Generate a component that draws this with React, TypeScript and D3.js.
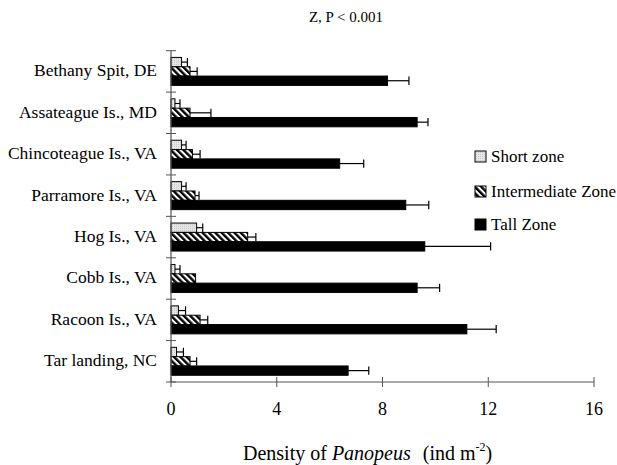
import React from "react";
import * as d3 from "d3";

const categories = [
  "Bethany Spit, DE",
  "Assateague Is., MD",
  "Chincoteague Is., VA",
  "Parramore Is., VA",
  "Hog Is., VA",
  "Cobb Is., VA",
  "Racoon Is., VA",
  "Tar landing, NC",
];
const seriesNames = ["Short zone", "Intermediate Zone", "Tall Zone"];
const shortVals = [0.4, 0.15, 0.4, 0.4, 0.97, 0.15, 0.28, 0.21];
const shortErr = [0.22, 0.19, 0.17, 0.17, 0.23, 0.19, 0.27, 0.26];
const interVals = [0.72, 0.72, 0.81, 0.91, 2.9, 0.93, 1.1, 0.72];
const interErr = [0.27, 0.79, 0.29, 0.15, 0.31, 0, 0.29, 0.25];
const tallVals = [8.19, 9.31, 6.38, 8.88, 9.6, 9.31, 11.19, 6.7];
const tallErr = [0.81, 0.41, 0.91, 0.87, 2.49, 0.85, 1.11, 0.78];
const xTicks = [0, 4, 8, 12, 16];

const W = 617;
const H = 465;
const FONT = "'Liberation Serif', 'Times New Roman', serif";

export default function App() {
  const x = d3.scaleLinear().domain([0, 16]).range([171, 594]);
  const y = d3.scaleBand<string>().domain(categories).range([50.7, 382]).padding(0);
  const inner = d3
    .scaleBand<string>()
    .domain(seriesNames)
    .range([0, y.bandwidth()])
    .paddingInner(0)
    .paddingOuter(0.72);

  const series = [
    { name: seriesNames[0], vals: shortVals, errs: shortErr, fill: "url(#dots)" },
    { name: seriesNames[1], vals: interVals, errs: interErr, fill: "url(#hatch)" },
    { name: seriesNames[2], vals: tallVals, errs: tallErr, fill: "#000" },
  ];

  const bh = inner.bandwidth();
  const boundaries = categories.map((c) => y(c) as number).concat([382]);

  return (
    <svg
      width={W}
      height={H}
      style={{ position: "absolute", left: 0, top: 0, background: "#fff", fontFamily: FONT }}
    >
      <defs>
        <pattern id="hatch" patternUnits="userSpaceOnUse" width="4.5" height="4.5" patternTransform="rotate(-45)">
          <rect width="4.5" height="4.5" fill="#fff" />
          <rect width="2.4" height="4.5" fill="#000" />
        </pattern>
        <pattern id="dots" patternUnits="userSpaceOnUse" width="2" height="2">
          <rect width="2" height="2" fill="#e6e6e6" />
          <rect width="1" height="1" fill="#c8c8c8" />
        </pattern>
      </defs>
      <rect width={W} height={H} fill="#fff" />

      <text x={346} y={22} fontSize={15} textAnchor="middle" fill="#000">
        Z, P &lt; 0.001
      </text>

      {/* bars */}
      {categories.map((c, i) => (
        <g key={c}>
          {series.map((s) => {
            const y0 = (y(c) as number) + (inner(s.name) as number);
            const xv = x(s.vals[i]);
            const xe = x(s.vals[i] + s.errs[i]);
            return (
              <g key={s.name}>
                <rect
                  x={x(0)}
                  y={y0}
                  width={xv - x(0)}
                  height={bh}
                  fill={s.fill}
                  stroke="#000"
                  strokeWidth={1}
                />
                {s.errs[i] > 0 && (
                  <g stroke="#000" strokeWidth={1.2}>
                    <line x1={xv} x2={xe} y1={y0 + bh / 2} y2={y0 + bh / 2} />
                    <line x1={xe} x2={xe} y1={y0 + 0.5} y2={y0 + bh - 0.5} />
                  </g>
                )}
              </g>
            );
          })}
          <text
            x={157}
            y={(y(c) as number) + y.bandwidth() / 2 + 5}
            fontSize={17.5}
            textAnchor="end"
            fill="#000"
          >
            {c}
          </text>
        </g>
      ))}

      {/* y axis */}
      <line x1={171} x2={171} y1={50.7} y2={382} stroke="#555" strokeWidth={1.2} />
      {boundaries.map((b, i) => (
        <line key={i} x1={166} x2={176} y1={b} y2={b} stroke="#555" strokeWidth={1} />
      ))}

      {/* x axis */}
      <line x1={x(0)} x2={x(16)} y1={382} y2={382} stroke="#555" strokeWidth={1.2} />
      {xTicks.map((t) => (
        <g key={t}>
          <line x1={x(t)} x2={x(t)} y1={377} y2={387} stroke="#555" strokeWidth={1} />
          <text x={x(t)} y={415} fontSize={18} textAnchor="middle" fill="#000">
            {t}
          </text>
        </g>
      ))}

      <text x={243} y={460} fontSize={20} textAnchor="start" fill="#000">
        Density of <tspan fontStyle="italic">Panopeus</tspan>
        <tspan dx={12}>(ind m</tspan>
        <tspan fontSize={12} dy={-9}>-2</tspan>
        <tspan dy={9}>)</tspan>
      </text>

      {/* legend */}
      {series.map((s, i) => {
        const by = [162, 197, 230][i];
        return (
          <g key={s.name}>
            <rect x={475} y={by - 11} width={11} height={11} fill={s.fill} stroke="#000" strokeWidth={1} />
            <text x={491} y={by} fontSize={17} fill="#000">
              {s.name}
            </text>
          </g>
        );
      })}
    </svg>
  );
}
